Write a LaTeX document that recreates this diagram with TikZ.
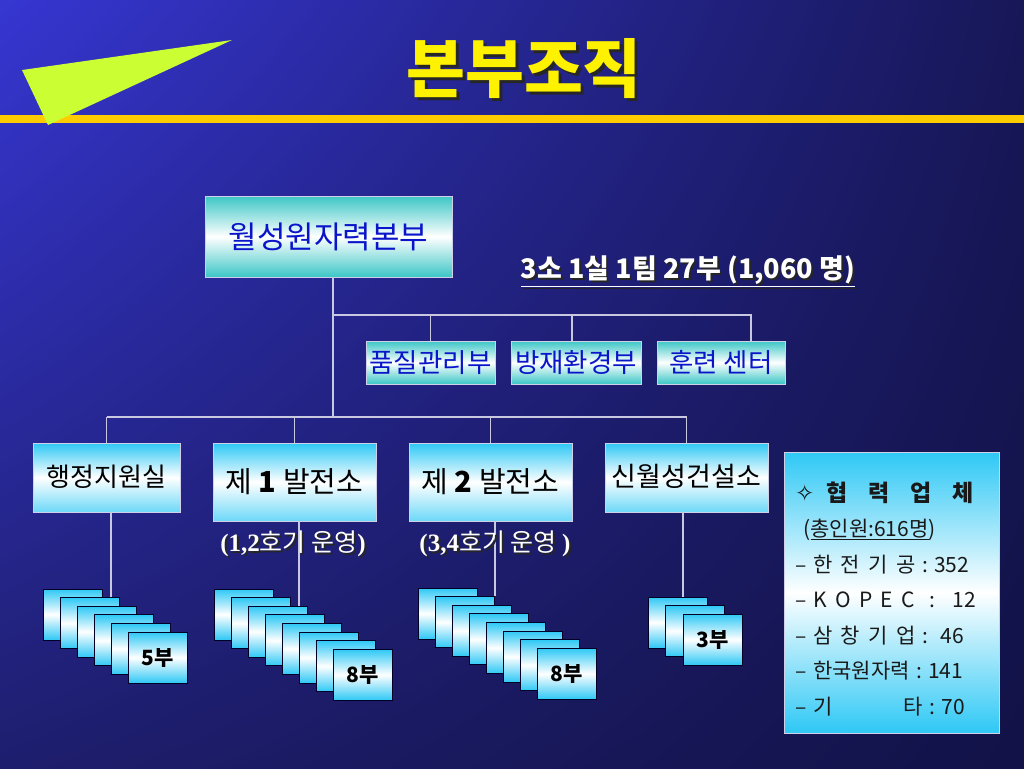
\documentclass[tikz,border=0pt]{standalone}
\usepackage{fontspec}
\setmainfont{Noto Sans CJK KR}
\newfontfamily\tms{Liberation Serif}
\newfontfamily\dvs{DejaVu Sans}
\usetikzlibrary{shadings}

\definecolor{bgtl}{HTML}{3636D2}
\definecolor{bgtr}{HTML}{171758}
\definecolor{bgbl}{HTML}{1E1E6E}
\definecolor{bgbr}{HTML}{121248}
\definecolor{barcol}{HTML}{FFCC00}
\definecolor{tricol}{HTML}{CCFF33}
\definecolor{tealc}{HTML}{3CC6C6}
\definecolor{skyc}{HTML}{2EC8F5}
\definecolor{linecol}{HTML}{C8C8E0}
\definecolor{boxline}{HTML}{D0D0E8}
\definecolor{textblue}{HTML}{0A14C8}

% text with a drop shadow
\newcommand{\shadowed}[2]{\leavevmode\rlap{\raisebox{-#1}{\hspace{#1}\color{black!85}#2}}#2}

\begin{document}
\begin{tikzpicture}[x=1pt, y=-1pt,
		link/.style={draw=linecol, line width=1.3pt},
		topbox/.style={draw=boxline, line width=0.8pt, top color=tealc, bottom color=tealc, middle color=white, inner sep=0pt, text=textblue},
		unitbox/.style={draw=boxline, line width=0.8pt, top color=skyc, bottom color=skyc!70, middle color=white, inner sep=0pt, text=black, font=\fontsize{26}{26}\selectfont},
		card/.style={draw=black!85!blue, line width=1pt, top color=skyc, bottom color=skyc, middle color=white, minimum width=59pt, minimum height=51pt, inner sep=0pt, font=\bfseries\fontsize{21}{21}\selectfont},
		whitenote/.style={text=white, inner sep=0pt}
		]
	\useasboundingbox (0,0) rectangle (1024,768);
	\shade[upper left=bgtl, upper right=bgtr, lower left=bgbl, lower right=bgbr] (0,0) rectangle (1024,768);
	\fill[barcol] (0,115) rectangle (1024,123);
	\fill[tricol] (22,70) -- (232,40) -- (48,125) -- cycle;
	\node[text=yellow, font=\bfseries\fontsize{64}{64}\selectfont] (title) at (524,70) {\shadowed{3pt}{본부조직}};

	% headquarters and staff units
	\node[topbox, minimum width=247pt, minimum height=81pt, font=\fontsize{31}{31}\selectfont] (hq) at (328.5,236.5) {월성원자력본부};
	\node[whitenote, font=\bfseries\fontsize{27}{27}\selectfont] (total) at (688,272) {\shadowed{2pt}{\underline{3소 1실 1팀 27부 (1,060 명)}}};
	\node[topbox, minimum width=129pt, minimum height=43pt, font=\fontsize{26.5}{26.5}\selectfont] (qa) at (430.5,362.5) {품질관리부};
	\node[topbox, minimum width=130pt, minimum height=43pt, font=\fontsize{26.5}{26.5}\selectfont] (safety) at (576,362.5) {방재환경부};
	\node[topbox, minimum width=128pt, minimum height=43pt, font=\fontsize{26.5}{26.5}\selectfont] (training) at (721,362.5) {훈련 센터};

	% sites
	\node[unitbox, minimum width=147pt, minimum height=69pt] (admin) at (106.5,477.5) {\raisebox{4pt}{행정지원실}};
	\node[unitbox, minimum width=163pt, minimum height=78pt, font=\fontsize{29}{29}\selectfont] (unit1) at (294.5,482) {제 {\bfseries 1} 발전소};
	\node[unitbox, minimum width=163pt, minimum height=78pt, font=\fontsize{29}{29}\selectfont] (unit2) at (490.5,482) {제 {\bfseries 2} 발전소};
	\node[unitbox, minimum width=163pt, minimum height=69pt, font=\fontsize{27}{27}\selectfont] (newsite) at (686.5,477.5) {\raisebox{4pt}{신월성건설소}};

	\coordinate (trunk) at (333,417);
	\coordinate (staff) at (333,315);
	\draw[link] (hq.south -| trunk) -- (trunk);
	\draw[link] (admin.north |- trunk) -- (newsite.north |- trunk);
	\foreach \n in {admin,unit1,unit2,newsite}
		\draw[link] (\n.north) -- (\n.north |- trunk);
	\draw[link] (staff) -| ([xshift=30pt]training.north);
	\draw[link] (qa.north) -- (qa.north |- staff);
	\draw[link] ([xshift=-4pt]safety.north) -- ([xshift=-4pt]safety.north |- staff);

	% departments under each site
	\foreach \i in {1,...,5}
		\node[card] (s1c\i) at ({72.5+17*(\i-1)},{614.5+8.6*(\i-1)}) {};
	\node[card] (s1c6) at (157.5,657.5) {5부};
	\foreach \i in {1,...,7}
		\node[card] (s2c\i) at ({243.5+17*(\i-1)},{614.5+8.6*(\i-1)}) {};
	\node[card] (s2c8) at (362.5,674.7) {8부};
	\foreach \i in {1,...,7}
		\node[card] (s3c\i) at ({447.5+17*(\i-1)},{613.5+8.6*(\i-1)}) {};
	\node[card] (s3c8) at (566.5,673.7) {8부};
	\foreach \i in {1,2}
		\node[card] (s4c\i) at ({677.5+17.5*(\i-1)},{622.5+8.5*(\i-1)}) {};
	\node[card] (s4c3) at (712.5,639.5) {3부};

	\draw[link] ([xshift=4.5pt]admin.south) -- ([xshift=4.5pt]admin.south |- s1c2.north);
	\draw[link] ([xshift=4.5pt]unit1.south) -- ([xshift=4.5pt]unit1.south |- s2c3.north);
	\draw[link] ([xshift=4.5pt]unit2.south) -- ([xshift=4.5pt]unit2.south |- s3c2.north);
	\draw[link] ([xshift=-3.5pt]newsite.south) -- ([xshift=-3.5pt]newsite.south |- s4c1.north);

	\node[whitenote, font=\fontsize{25}{25}\selectfont] (op1) at (293,545) {\shadowed{2pt}{{\tms\bfseries (1,2}호기 운영{\tms\bfseries )}}};
	\node[whitenote, font=\fontsize{25}{25}\selectfont] (op2) at (495,545) {\shadowed{2pt}{{\tms\bfseries (3,4}호기 운영 {\tms\bfseries )}}};

	% partner companies
	\node[draw=boxline, line width=0.8pt, top color=skyc, bottom color=skyc, middle color=white, minimum width=215pt, minimum height=281pt, inner xsep=11pt, inner ysep=0pt, text width=193pt, align=left, text=black!90, font=\fontsize{21}{35.5}\selectfont] (partner) at (891.5,592.5) {%
		{\bfseries\fontsize{23}{23}\selectfont\rule{0pt}{32pt}{\dvs ✧}\hspace{0.55em}협\hspace{0.9em}력\hspace{0.9em}업\hspace{0.9em}체}\\
		\hspace{0.4em}(\underline{총인원:616명})\\
		– 한\hspace{0.4em}전\hspace{0.4em}기\hspace{0.4em}공\hspace{0.3em}:\hspace{0.3em}352\\
		– K\hspace{0.4em}O\hspace{0.4em}P\hspace{0.4em}E\hspace{0.4em}C\hspace{0.7em}:\hspace{0.8em}12\\
		– 삼\hspace{0.4em}창\hspace{0.4em}기\hspace{0.4em}업\hspace{0.3em}:\hspace{0.6em}46\\
		– 한국원자력\hspace{0.3em}:\hspace{0.3em}141\\
		– 기\hspace{3.4em}타\hspace{0.3em}:\hspace{0.3em}70};
\end{tikzpicture}
\end{document}
